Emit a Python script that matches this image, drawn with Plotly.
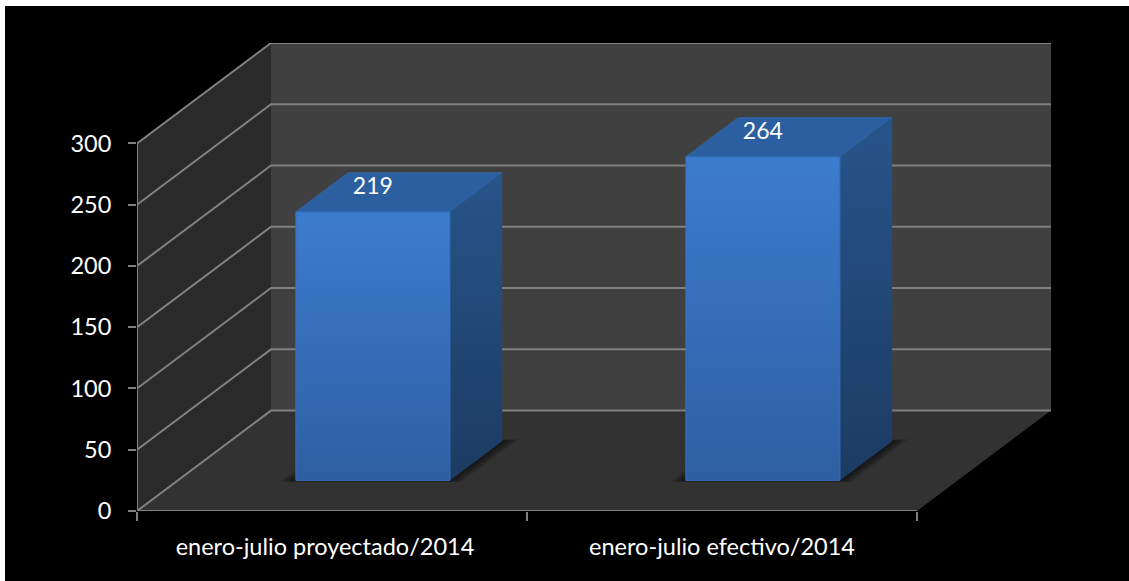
import plotly.graph_objects as go

# ---- data ----
categories = ["enero-julio proyectado/2014", "enero-julio efectivo/2014"]
values = [219, 264]
y_ticks = [0, 50, 100, 150, 200, 250, 300]

# ---- oblique-projection parameters (data units) ----
DX = 134 / 390          # x-shift of the full chart depth
DY = 100.5 / (368 / 300)  # value-shift of the full chart depth
BAR_OFF = 0.3025        # gap between category edge and bar
BAR_W = 0.395
D0, D1 = 0.305, 0.695   # bar start/end as share of chart depth
FONT = "Lato"
GRID = "#808080"


def proj(x, v, d):
    return x + d * DX, v + d * DY


def poly(points, **kw):
    xs, ys = zip(*[proj(*p) for p in points])
    return go.Scatter(x=list(xs) + [xs[0]], y=list(ys) + [ys[0]], mode="lines", fill="toself",
                      hoverinfo="skip", showlegend=False, cliponaxis=False, **kw)


def line(points, color=GRID, width=2):
    xs, ys = zip(*[proj(*p) for p in points])
    return go.Scatter(x=xs, y=ys, mode="lines", line=dict(color=color, width=width),
                      hoverinfo="skip", showlegend=False, cliponaxis=False)


fig = go.Figure()
nx = len(categories)
top = y_ticks[-1]

# walls and floor
noline = dict(line=dict(width=0))
fig.add_trace(poly([(0, 0, 1), (nx, 0, 1), (nx, top, 1), (0, top, 1)], fillcolor="#404040", **noline))
fig.add_trace(poly([(0, 0, 0), (0, 0, 1), (0, top, 1), (0, top, 0)], fillcolor="#2a2a2a", **noline))
fig.add_trace(poly([(0, 0, 0), (nx, 0, 0), (nx, 0, 1), (0, 0, 1)], fillcolor="#323232", **noline))

# grid lines running over the left wall and the back wall
for v in y_ticks:
    fig.add_trace(line([(0, v, 0), (0, v, 1), (nx, v, 1)]))
# axis lines
fig.add_trace(line([(0, 0, 0), (0, top, 0)]))
fig.add_trace(line([(0, 0, 0), (nx, 0, 0)]))

# bars
for i, val in enumerate(values):
    x0 = i + BAR_OFF
    x1 = x0 + BAR_W
    # soft floor shadow
    for s in (0.036, 0.031, 0.026, 0.021, 0.016, 0.011, 0.006):
        ds = s * 0.55
        fig.add_trace(poly([(x0 - s, 0, D0 - ds), (x1 + s, 0, D0 - ds), (x1 + s, 0, D1 + ds), (x0 - s, 0, D1 + ds)],
                           fillcolor="rgba(0,0,0,0.09)", **noline))
    # top face
    fig.add_trace(poly([(x0, val, D0), (x1, val, D0), (x1, val, D1), (x0, val, D1)],
                       fillcolor="#2b5f9f", line=dict(color="#2f66aa", width=1)))
    # side face
    fig.add_trace(poly([(x1, 0, D0), (x1, 0, D1), (x1, val, D1), (x1, val, D0)],
                       line=dict(width=0),
                       fillgradient=dict(type="vertical",
                                         colorscale=[[0, "#1c3b63"], [1, "#27548a"]])))
    # front face
    fig.add_trace(poly([(x0, 0, D0), (x1, 0, D0), (x1, val, D0), (x0, val, D0)],
                       line=dict(color="#3670b8", width=1),
                       fillgradient=dict(type="vertical",
                                         colorscale=[[0, "#2e5fa2"], [1, "#3c7cce"]])))
    # data label
    lx, ly = proj(x0 + BAR_W / 2, val + 19.5, D0)
    fig.add_trace(go.Scatter(x=[lx], y=[ly], mode="text", text=[str(val)],
                             textfont=dict(family=FONT, size=23, color="#ffffff"),
                             textposition="middle center", hoverinfo="skip",
                             showlegend=False, cliponaxis=False))

fig.update_layout(
    width=1124, height=575,
    margin=dict(l=132, r=78, t=37, b=70, pad=0),
    paper_bgcolor="#000000", plot_bgcolor="rgba(0,0,0,0)",
    font=dict(family=FONT, size=23.5, color="#ffffff"),
    showlegend=False,
    xaxis=dict(range=[0, nx + DX], showgrid=False, zeroline=False, showline=False,
               tickmode="array", tickvals=[0.482, 1.5], ticktext=categories,
               ticks="", tickangle=0, ticklabelstandoff=19,
               minor=dict(ticks="outside", ticklen=9, tickwidth=2, tickcolor=GRID,
                          tick0=0, dtick=1, showgrid=False)),
    yaxis=dict(range=[0, top + DY], showgrid=False, zeroline=False, showline=False,
               tickmode="array", tickvals=y_ticks, ticks="outside", ticklen=8, tickwidth=2,
               tickcolor=GRID, ticklabelstandoff=12),
)

fig.write_html("out.html", config=dict(displayModeBar=False),
               post_script="document.body.style.margin='6px 0 0 5px';document.body.style.background='#fff';document.body.style.overflow='hidden';")
